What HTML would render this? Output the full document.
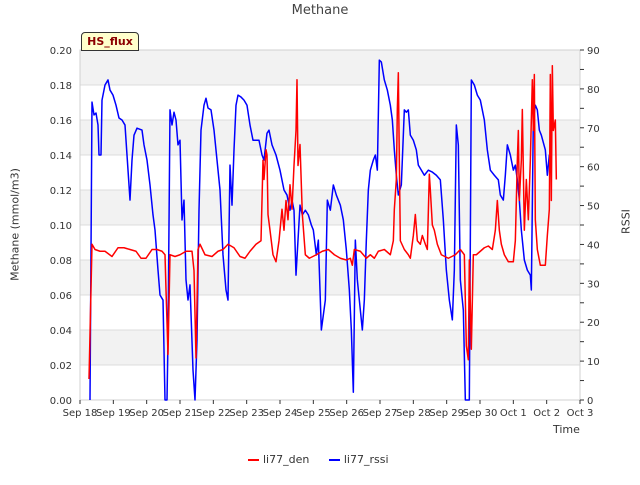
<!DOCTYPE html>
<html><head><meta charset="utf-8"><style>
body{margin:0;background:#fff;font-family:"Liberation Sans","DejaVu Sans",sans-serif}
svg text{font-family:"DejaVu Sans","Liberation Sans",sans-serif}
</style></head><body>
<svg id="c" width="640" height="480" xmlns="http://www.w3.org/2000/svg"></svg>
<script>
const xTickLabels=["Sep 18","Sep 19","Sep 20","Sep 21","Sep 22","Sep 23","Sep 24","Sep 25","Sep 26","Sep 27","Sep 28","Sep 29","Sep 30","Oct 1","Oct 2","Oct 3"];
const leftTicks=[0,0.02,0.04,0.06,0.08,0.10,0.12,0.14,0.16,0.18,0.20];
const rightTicks=[0,10,20,30,40,50,60,70,80,90];
const rssiDays=[0.30,0.36,0.42,0.48,0.54,0.57,0.63,0.66,0.75,0.84,0.90,0.99,1.08,1.17,1.26,1.35,1.41,1.50,1.56,1.62,1.71,1.86,1.92,2.01,2.10,2.19,2.25,2.34,2.40,2.49,2.55,2.61,2.64,2.70,2.76,2.82,2.88,2.94,3.00,3.06,3.12,3.18,3.24,3.30,3.39,3.45,3.51,3.57,3.63,3.72,3.78,3.84,3.93,4.02,4.11,4.20,4.29,4.38,4.44,4.50,4.56,4.62,4.68,4.74,4.83,4.92,5.01,5.10,5.19,5.37,5.46,5.52,5.61,5.67,5.76,5.88,6.00,6.12,6.21,6.30,6.36,6.42,6.48,6.54,6.60,6.67,6.76,6.85,6.94,7.00,7.09,7.15,7.24,7.36,7.42,7.51,7.60,7.69,7.81,7.90,7.99,8.08,8.14,8.20,8.26,8.32,8.38,8.47,8.53,8.59,8.65,8.71,8.80,8.86,8.92,8.98,9.04,9.13,9.22,9.31,9.37,9.43,9.49,9.55,9.64,9.73,9.79,9.85,9.91,10.00,10.09,10.15,10.24,10.33,10.45,10.57,10.69,10.81,10.90,10.99,11.08,11.17,11.23,11.29,11.35,11.41,11.50,11.56,11.68,11.74,11.83,11.92,12.01,12.13,12.22,12.31,12.43,12.55,12.61,12.70,12.76,12.82,12.91,13.00,13.06,13.12,13.18,13.24,13.33,13.42,13.51,13.54,13.60,13.66,13.72,13.78,13.84,13.96,14.02,14.08,14.11];
const rssiValues=[0,76.6,73.3,73.8,70.7,63,63,77.1,81,82.3,79.7,78.4,75.8,72.5,72,70.7,63,51.4,61.7,68.1,69.9,69.4,65.6,61.7,55.3,47.6,43.7,33.4,27,25.7,0,0,15.4,74.6,70.7,74,72,65.6,66.8,46.3,51.4,30.9,25.7,29.6,7.7,0,15.4,48.8,69.4,75.8,77.6,75.1,74.6,69.4,61.7,54,37.3,28.3,25.7,60.4,50.1,64.3,75.8,78.4,77.9,77.1,75.8,70.7,66.8,66.8,63,61.7,68.6,69.4,65.6,63,59.1,54,52.7,48.8,51.4,48.8,32.1,41.1,50.1,47.6,48.8,47.6,45,43.7,37.3,41.1,18,25.7,51.4,48.8,55.3,52.7,50.1,46.3,38.6,28.3,18,2,41.1,30.9,25.7,18,25.7,41.1,54,59.1,61.7,63,59.1,87.4,86.9,82.3,79.7,75.8,72,64.3,57.8,52.7,55.3,74.6,74,74.6,68.1,66.8,64.3,60.4,59.1,57.8,59.1,58.6,57.8,56.6,46.3,33.4,25.7,20.6,33.4,70.7,65.6,30.9,23.1,0,0,82.3,81,78.4,77.1,72,64.3,59.1,57.8,56.6,52.7,51.4,57.8,65.6,63,59.1,60.4,56.6,51.4,43.7,36,33.4,32.1,28.3,72,75.8,74.6,69.4,68.1,64.3,57.8,63,60.4];
const denDays=[0.27,0.36,0.45,0.60,0.75,0.96,1.14,1.32,1.50,1.68,1.83,1.98,2.16,2.31,2.46,2.55,2.58,2.64,2.70,2.85,3.00,3.18,3.36,3.42,3.48,3.54,3.60,3.75,3.96,4.14,4.29,4.44,4.62,4.80,4.95,5.10,5.28,5.43,5.49,5.52,5.58,5.61,5.64,5.70,5.79,5.88,5.97,6.06,6.12,6.18,6.24,6.30,6.36,6.42,6.48,6.51,6.54,6.60,6.67,6.76,6.88,7.09,7.27,7.45,7.63,7.81,7.99,8.11,8.17,8.23,8.41,8.59,8.71,8.83,8.95,9.13,9.31,9.40,9.43,9.49,9.52,9.55,9.58,9.61,9.73,9.85,9.91,10.00,10.06,10.12,10.21,10.27,10.36,10.42,10.48,10.51,10.57,10.63,10.72,10.84,11.05,11.26,11.41,11.53,11.59,11.65,11.68,11.74,11.80,11.89,12.01,12.13,12.25,12.37,12.46,12.52,12.58,12.64,12.73,12.85,13.00,13.06,13.12,13.15,13.18,13.24,13.27,13.33,13.39,13.45,13.51,13.57,13.60,13.63,13.66,13.72,13.81,13.96,14.02,14.08,14.11,14.14,14.17,14.20,14.26,14.29];
const denValues=[0.012,0.089,0.086,0.085,0.085,0.082,0.087,0.087,0.086,0.085,0.081,0.081,0.086,0.086,0.085,0.083,0.063,0.026,0.083,0.082,0.083,0.085,0.085,0.074,0.024,0.086,0.089,0.083,0.082,0.085,0.086,0.089,0.087,0.082,0.081,0.085,0.089,0.091,0.137,0.126,0.143,0.140,0.106,0.097,0.083,0.079,0.091,0.109,0.097,0.114,0.103,0.123,0.109,0.134,0.154,0.183,0.134,0.146,0.106,0.083,0.081,0.083,0.085,0.086,0.083,0.081,0.080,0.081,0.077,0.086,0.085,0.081,0.083,0.081,0.085,0.086,0.083,0.091,0.109,0.126,0.166,0.187,0.137,0.091,0.086,0.083,0.081,0.094,0.106,0.091,0.089,0.094,0.089,0.086,0.129,0.120,0.100,0.097,0.089,0.083,0.081,0.083,0.086,0.083,0.031,0.023,0.080,0.029,0.083,0.083,0.085,0.087,0.088,0.086,0.097,0.114,0.097,0.089,0.083,0.079,0.079,0.091,0.137,0.154,0.114,0.137,0.166,0.097,0.126,0.103,0.137,0.183,0.154,0.186,0.103,0.086,0.077,0.077,0.094,0.109,0.186,0.114,0.191,0.154,0.160,0.126];

const svg=document.getElementById('c');const NS='http://www.w3.org/2000/svg';
const L=80,R=580,T=50,B=400;
const xS=d=>L+d*(R-L)/15;
const yL=v=>B-v*(B-T)/0.2;
const yR=v=>B-v*(B-T)/90;
function mk(tag,attrs,parent){const e=document.createElementNS(NS,tag);for(const k in attrs)e.setAttribute(k,attrs[k]);(parent||svg).appendChild(e);return e;}
function txt(s,attrs){const e=mk('text',attrs);e.textContent=s;return e;}
// bands
for(let i=0;i<leftTicks.length-1;i++){
  if(i%2===1){const r=mk('rect',{x:L,y:yL(leftTicks[i+1]),width:R-L,height:yL(leftTicks[i])-yL(leftTicks[i+1]),fill:'#f2f2f2'});
  
  }
}
leftTicks.forEach(v=>{const l=mk('line',{x1:L,x2:R,y1:yL(v),y2:yL(v),stroke:'#dcdcdc','stroke-width':1});


const t=txt(v.toFixed(2),{x:L-8,y:yL(v)+4,'text-anchor':'end','font-size':10,fill:'#333'});

});
mk('rect',{x:L,y:T,width:R-L,height:B-T,fill:'none',stroke:'#d0d0d0'});
for(let v=0;v<=90;v+=5){mk('line',{x1:R,x2:R+4,y1:yR(v),y2:yR(v),stroke:'#333'});}
rightTicks.forEach(v=>{const t=txt(String(v),{x:R+7,y:yR(v)+4,'font-size':10,fill:'#333'});

});
xTickLabels.forEach((s,i)=>{mk('line',{x1:xS(i),x2:xS(i),y1:B,y2:B+4,stroke:'#333'});
const t=txt(s,{x:xS(i),y:B+16,'text-anchor':'middle','font-size':10,fill:'#333'});

});
function line(xs,ys,yf,color,name){const p=mk('polyline',{points:xs.map((d,i)=>xS(d)+','+yf(ys[i])).join(' '),fill:'none',stroke:color,'stroke-width':1.5,'stroke-linejoin':'round'});

}
line(rssiDays,rssiValues,yR,'#0000ff','rssi-series-line');
line(denDays,denValues,yL,'#ff0000','den-series-line');
</script>
<div style="position:absolute;left:0;top:0;width:640px;height:480px;pointer-events:none">
<div style="position:absolute;left:0;width:640px;top:3px;text-align:center;font:13px 'DejaVu Sans',sans-serif;color:#444">Methane</div>
<div style="position:absolute;left:-45px;top:218px;width:120px;text-align:center;transform:rotate(-90deg);font:11px 'DejaVu Sans',sans-serif;color:#333">Methane (mmol/m3)</div>
<div style="position:absolute;left:606px;top:215px;width:40px;text-align:center;transform:rotate(-90deg);font:11px 'DejaVu Sans',sans-serif;color:#333">RSSI</div>
<div style="position:absolute;left:553px;top:423px;font:11px 'DejaVu Sans',sans-serif;color:#333">Time</div>
<div style="position:absolute;left:81px;top:32px;width:56px;height:17px;background:#ffffcc;border:1px solid #333;border-radius:4px 4px 0 0;font:bold 11px 'DejaVu Sans',sans-serif;color:#8b0000;text-align:center;line-height:17px">HS_flux</div>
<div style="position:absolute;left:248px;top:453px;font:11px 'DejaVu Sans',sans-serif;color:#333;white-space:nowrap">
<span><span style="display:inline-block;width:11px;height:2px;background:#f00;vertical-align:middle;margin-right:4px"></span>li77_den</span>
<span style="margin-left:16px"><span style="display:inline-block;width:11px;height:2px;background:#00f;vertical-align:middle;margin-right:4px"></span>li77_rssi</span>
</div>
</div>
</body></html>
